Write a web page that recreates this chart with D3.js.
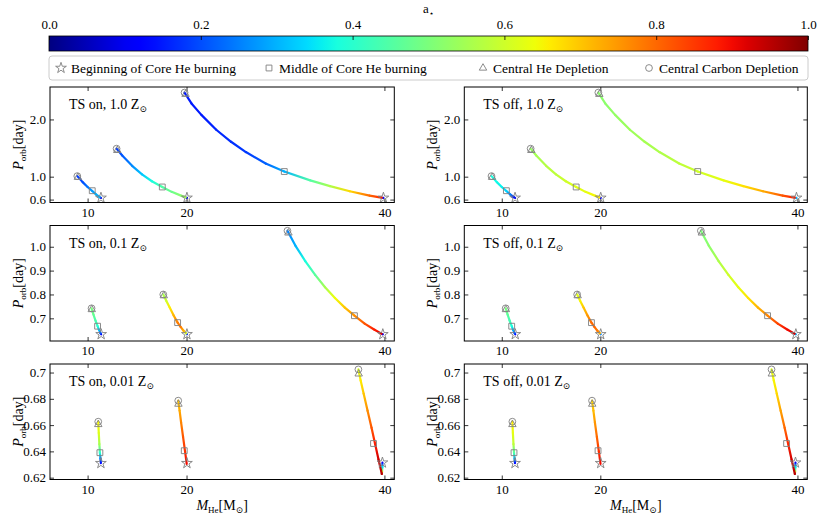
<!DOCTYPE html>
<html>
<head>
<meta charset="utf-8">
<script src="https://cdn.jsdelivr.net/npm/d3@7"></script>
<style>
body { margin: 0; background: #fff; }
svg, svg text { font-family: "Liberation Serif", "Times New Roman", Times, "DejaVu Serif", serif; }
.tick text { font-size: 13px; fill: #000; }
.tick line { stroke: #000; stroke-width: 0.8; }
</style>
</head>
<body>
<script>

// ---- data: tracks run from the star (start of core He burning) to the circle ----
const xTicks = [10, 20, 40];

// Z = 1.0 Zsun
const massZ1 = [
    [11.35, 11.2, 10.85, 10.47, 10.0, 9.5, 8.96],
    [20.04, 19.9, 19.5, 18.5, 17.55, 16.5, 15.5, 14.5, 13.5, 12.93],
    [39.9, 39.7, 38.5, 36.5, 34.5, 32.5, 29.88, 28.0, 26.0, 24.5, 23.0, 21.5, 20.5, 19.8]
];
const porbZ1 = [
    [0.63, 0.645, 0.69, 0.75, 0.82, 0.905, 1.01],
    [0.63, 0.64, 0.665, 0.735, 0.82, 0.92, 1.04, 1.19, 1.37, 1.49],
    [0.63, 0.635, 0.67, 0.745, 0.835, 0.935, 1.09, 1.23, 1.43, 1.61, 1.82, 2.08, 2.28, 2.47]
];
const spinOnZ1 = [
    [0.08, 0.3, 0.3, 0.28, 0.24, 0.2, 0.18],
    [0.08, 0.55, 0.52, 0.48, 0.45, 0.38, 0.32, 0.26, 0.21, 0.18],
    [0.1, 0.87, 0.8, 0.68, 0.56, 0.45, 0.3, 0.22, 0.18, 0.17, 0.16, 0.15, 0.15, 0.15]
];
const spinOffZ1 = [
    [0.08, 0.15, 0.25, 0.33, 0.36, 0.37, 0.38],
    [0.1, 0.66, 0.65, 0.63, 0.62, 0.6, 0.58, 0.57, 0.55, 0.53],
    [0.3, 0.88, 0.82, 0.73, 0.67, 0.63, 0.6, 0.58, 0.56, 0.55, 0.54, 0.53, 0.52, 0.52]
];
const starZ1 = [[11.35, 0.63], [20.04, 0.63], [39.9, 0.63]];
const squareZ1 = [[10.47, 0.755], [17.55, 0.82], [29.88, 1.09]];
const triZ1 = [[9.02, 0.99], [13.0, 1.46], [19.9, 2.44]];
const circZ1 = [[8.96, 1.01], [12.93, 1.49], [19.8, 2.47]];
const yTicksZ1 = [0.6, 1.0, 2.0];
const yLabelsZ1 = ["0.6", "1.0", "2.0"];

// Z = 0.1 Zsun
const massZ01 = [
    [11.37, 11.3, 11.15, 11.01, 10.8, 10.6, 10.4],
    [20.04, 19.95, 19.7, 19.4, 19.1, 18.7, 18.3, 17.95, 17.65],
    [39.84, 39.7, 39.0, 38.0, 36.97, 36.0, 35.0, 34.0, 33.0, 32.0, 31.0, 30.2]
];
const porbZ01 = [
    [0.633, 0.638, 0.652, 0.667, 0.69, 0.715, 0.742],
    [0.633, 0.637, 0.648, 0.664, 0.682, 0.712, 0.745, 0.774, 0.80],
    [0.633, 0.636, 0.652, 0.678, 0.711, 0.745, 0.785, 0.83, 0.882, 0.94, 1.005, 1.067]
];
const spinOnZ01 = [
    [0.1, 0.2, 0.32, 0.4, 0.44, 0.47, 0.5],
    [0.15, 0.6, 0.72, 0.78, 0.78, 0.72, 0.66, 0.6, 0.55],
    [0.1, 0.92, 0.88, 0.82, 0.76, 0.7, 0.64, 0.55, 0.46, 0.38, 0.3, 0.25]
];
const spinOffZ01 = [
    [0.12, 0.2, 0.3, 0.38, 0.43, 0.46, 0.5],
    [0.25, 0.72, 0.78, 0.8, 0.8, 0.75, 0.7, 0.65, 0.62],
    [0.3, 0.93, 0.9, 0.84, 0.77, 0.72, 0.67, 0.63, 0.6, 0.56, 0.52, 0.5]
];
const starZ01 = [[11.37, 0.633], [20.04, 0.633], [39.84, 0.633]];
const squareZ01 = [[11.01, 0.667], [19.1, 0.682], [36.97, 0.711]];
const triZ01 = [[10.42, 0.737], [17.7, 0.795], [30.3, 1.058]];
const circZ01 = [[10.4, 0.742], [17.65, 0.80], [30.2, 1.067]];
const yTicksZ01 = [0.7, 0.8, 0.9, 1.0];
const yLabelsZ01 = ["0.7", "0.8", "0.9", "1.0"];

// Z = 0.01 Zsun
const massZ001 = [
    [11.345, 11.3, 11.244, 11.19, 11.13, 11.076],
    [20.02, 19.85, 19.65, 19.45, 19.3, 19.16],
    [39.8, 39.79, 39.76, 39.74, 39.4, 39.05, 38.7, 38.3, 37.9, 37.6, 37.37]
];
const porbZ001 = [
    [0.631, 0.6345, 0.639, 0.6455, 0.654, 0.6626],
    [0.6305, 0.64, 0.651, 0.662, 0.671, 0.6786],
    [0.6314, 0.628, 0.6245, 0.6228, 0.634, 0.646, 0.658, 0.671, 0.684, 0.694, 0.7024]
];
const spinOnZ001 = [
    [0.12, 0.25, 0.4, 0.55, 0.62, 0.65],
    [0.9, 0.86, 0.82, 0.77, 0.73, 0.7],
    [0.1, 0.35, 0.6, 0.95, 0.93, 0.88, 0.82, 0.76, 0.7, 0.66, 0.62]
];
const spinOffZ001 = [
    [0.12, 0.3, 0.45, 0.58, 0.63, 0.66],
    [0.9, 0.86, 0.8, 0.75, 0.71, 0.68],
    [0.1, 0.35, 0.6, 0.95, 0.93, 0.87, 0.8, 0.74, 0.68, 0.65, 0.62]
];
const starZ001 = [[11.345, 0.631], [20.04, 0.631], [39.8, 0.6314]];
const squareZ001 = [[11.244, 0.639], [19.77, 0.6405], [38.9, 0.646]];
const triZ001 = [[11.08, 0.6605], [19.18, 0.676], [37.4, 0.699]];
const circZ001 = [[11.076, 0.6626], [19.16, 0.6786], [37.37, 0.7024]];
const yTicksZ001 = [0.62, 0.64, 0.66, 0.68, 0.70];
const yLabelsZ001 = ["0.62", "0.64", "0.66", "0.68", "0.7"];

const cbarTicks = [0, 0.2, 0.4, 0.6, 0.8, 1.0];
const cbarLabels = ["0.0", "0.2", "0.4", "0.6", "0.8", "1.0"];
const legendLabels = ["Beginning of Core He burning", "Middle of Core He burning",
                      "Central He Depletion", "Central Carbon Depletion"];

// ---- layout ----
const W = 822, H = 518;
const FONT = "'Liberation Serif', 'Times New Roman', Times, 'DejaVu Serif', serif";
const colX = [[50, 394.3], [464.3, 807.3]];
const rowY = [[87, 202.5], [225.5, 341], [364, 479.5]];
const xDomain = [6.2, 41.0];
const yDomains = [[0.549, 2.567], [0.605, 1.089], [0.6186, 0.7065]];

const svg = d3.select("body").append("svg")
    .attr("width", W).attr("height", H)
    .attr("font-family", FONT);
const defs = svg.append("defs");

// matplotlib "jet"
const jetR = d3.scaleLinear().domain([0, 0.35, 0.66, 0.89, 1]).range([0, 0, 1, 1, 0.5]).clamp(true);
const jetG = d3.scaleLinear().domain([0, 0.125, 0.375, 0.64, 0.91, 1]).range([0, 0, 1, 1, 0, 0]).clamp(true);
const jetB = d3.scaleLinear().domain([0, 0.11, 0.34, 0.65, 1]).range([0.5, 1, 1, 0, 0]).clamp(true);
const jet = a => d3.rgb(255 * jetR(a), 255 * jetG(a), 255 * jetB(a)).formatHex();

// ---- colorbar ----
const cb = {x0: 49, x1: 808, y: 36, h: 15};
const cScale = d3.scaleLinear().domain([0, 1]).range([cb.x0, cb.x1]);
const cgrad = defs.append("linearGradient").attr("id", "cbar");
d3.range(0, 1.0001, 0.02).forEach(t => {
    cgrad.append("stop").attr("offset", t).attr("stop-color", jet(t));
});
svg.append("rect")
    .attr("x", cb.x0).attr("y", cb.y)
    .attr("width", cb.x1 - cb.x0).attr("height", cb.h)
    .attr("fill", "url(#cbar)")
    .attr("stroke", "#000").attr("stroke-width", 0.8);
const cAxis = svg.append("g")
    .attr("transform", `translate(0,${cb.y})`)
    .call(d3.axisTop(cScale).tickValues(cbarTicks)
        .tickFormat((d, i) => cbarLabels[i])
        .tickSizeInner(-4).tickSizeOuter(0).tickPadding(7));
cAxis.select(".domain").remove();
cAxis.attr("font-size", null).attr("font-family", FONT);

const aLab = svg.append("text")
    .attr("x", (cb.x0 + cb.x1) / 2).attr("y", 13)
    .attr("text-anchor", "middle").attr("font-size", 13);
aLab.append("tspan").text("a");
aLab.append("tspan").attr("font-size", 8).attr("dy", 3).text("\u22C6");

// ---- markers ----
const markerStroke = "#7f7f7f";
const symbols = [
    d3.symbol(d3.symbolStar, 36),
    d3.symbol(d3.symbolSquare, 34),
    d3.symbol(d3.symbolTriangle, 24),
    d3.symbol(d3.symbolCircle, 36)
];

// ---- legend ----
const lg = svg.append("g");
lg.append("rect")
    .attr("x", 49).attr("y", 56).attr("width", 759).attr("height", 24)
    .attr("rx", 3).attr("fill", "#fff")
    .attr("stroke", "#cccccc").attr("stroke-width", 1);
const legX = [61, 269, 483, 649];
legendLabels.forEach((lab, i) => {
    lg.append("path")
        .attr("d", symbols[i]())
        .attr("transform", `translate(${legX[i]},68)`)
        .attr("fill", "none").attr("stroke", markerStroke).attr("stroke-width", 0.9);
    lg.append("text")
        .attr("x", legX[i] + 10).attr("y", 72.5)
        .attr("font-size", 13.5)
        .text(lab);
});

// ---- panels ----
const rows = [
    {z: "1.0", M: massZ1, P: porbZ1, spin: [spinOnZ1, spinOffZ1],
     ev: [starZ1, squareZ1, triZ1, circZ1], yt: yTicksZ1, yl: yLabelsZ1},
    {z: "0.1", M: massZ01, P: porbZ01, spin: [spinOnZ01, spinOffZ01],
     ev: [starZ01, squareZ01, triZ01, circZ01], yt: yTicksZ01, yl: yLabelsZ01},
    {z: "0.01", M: massZ001, P: porbZ001, spin: [spinOnZ001, spinOffZ001],
     ev: [starZ001, squareZ001, triZ001, circZ001], yt: yTicksZ001, yl: yLabelsZ001}
];
const tsNames = ["TS on", "TS off"];

let gid = 0;

rows.forEach((row, r) => {
    [0, 1].forEach(c => {
        const [x0, x1] = colX[c];
        const [y0, y1] = rowY[r];
        const x = d3.scaleLinear().domain(xDomain).range([x0, x1]);
        const y = d3.scaleLinear().domain(yDomains[r]).range([y1, y0]);
        const g = svg.append("g");

        // axes, ticks pointing inward on all sides
        const axB = g.append("g").attr("transform", `translate(0,${y1})`)
            .call(d3.axisBottom(x).tickValues(xTicks).tickFormat(d3.format("d"))
                .tickSizeInner(-4).tickSizeOuter(0).tickPadding(5));
        const axT = g.append("g").attr("transform", `translate(0,${y0})`)
            .call(d3.axisTop(x).tickValues(xTicks).tickFormat("")
                .tickSizeInner(-4).tickSizeOuter(0));
        const axL = g.append("g").attr("transform", `translate(${x0},0)`)
            .call(d3.axisLeft(y).tickValues(row.yt).tickFormat((d, i) => row.yl[i])
                .tickSizeInner(-4).tickSizeOuter(0).tickPadding(4));
        const axR = g.append("g").attr("transform", `translate(${x1},0)`)
            .call(d3.axisRight(y).tickValues(row.yt).tickFormat("")
                .tickSizeInner(-4).tickSizeOuter(0));
        [axB, axT, axL, axR].forEach(a => {
            a.select(".domain").remove();
            a.attr("font-size", null).attr("font-family", FONT);
        });

        // coloured tracks: each segment gets its own gradient
        const spin = row.spin[c];
        const lines = g.append("g");
        row.M.forEach((Ms, k) => {
            const Ps = row.P[k], As = spin[k];
            for (let i = 0; i < Ms.length - 1; i++) {
                const id = "seg" + (gid++);
                const xa = x(Ms[i]), ya = y(Ps[i]), xb = x(Ms[i + 1]), yb = y(Ps[i + 1]);
                const gr = defs.append("linearGradient").attr("id", id)
                    .attr("gradientUnits", "userSpaceOnUse")
                    .attr("x1", xa).attr("y1", ya).attr("x2", xb).attr("y2", yb);
                gr.append("stop").attr("offset", 0).attr("stop-color", jet(As[i]));
                gr.append("stop").attr("offset", 1).attr("stop-color", jet(As[i + 1]));
                lines.append("line")
                    .attr("x1", xa).attr("y1", ya).attr("x2", xb).attr("y2", yb)
                    .attr("stroke", `url(#${id})`)
                    .attr("stroke-width", 2.2)
                    .attr("stroke-linecap", "round");
            }
        });

        // event markers
        row.ev.forEach((pts, s) => {
            g.selectAll(null).data(pts).enter().append("path")
                .attr("d", symbols[s]())
                .attr("transform", d => `translate(${x(d[0])},${y(d[1])})`)
                .attr("fill", "none")
                .attr("stroke", markerStroke)
                .attr("stroke-width", 0.9);
        });

        // frame
        g.append("rect")
            .attr("x", x0).attr("y", y0)
            .attr("width", x1 - x0).attr("height", y1 - y0)
            .attr("fill", "none").attr("stroke", "#000").attr("stroke-width", 1);

        // panel title
        const t = g.append("text")
            .attr("x", x0 + 19).attr("y", y0 + 22)
            .attr("font-size", 14);
        t.append("tspan").text(`${tsNames[c]}, ${row.z} Z`);
        t.append("tspan").attr("font-size", 9).attr("dy", 3).text("\u2299");

        // y label
        const yl = g.append("text")
            .attr("transform", `translate(${x0 - 27},${(y0 + y1) / 2}) rotate(-90)`)
            .attr("text-anchor", "middle")
            .attr("font-size", 14);
        yl.append("tspan").attr("font-style", "italic").text("P");
        yl.append("tspan").attr("font-size", 9).attr("dy", 3).text("orb");
        yl.append("tspan").attr("dy", -3).text("[day]");

        // x label on bottom row
        if (r === 2) {
            const xl = g.append("text")
                .attr("x", (x0 + x1) / 2).attr("y", 510)
                .attr("text-anchor", "middle")
                .attr("font-size", 14);
            xl.append("tspan").attr("font-style", "italic").text("M");
            xl.append("tspan").attr("font-size", 9).attr("dy", 3).text("He");
            xl.append("tspan").attr("dy", -3).text("[M");
            xl.append("tspan").attr("font-size", 9).attr("dy", 3).text("\u2299");
            xl.append("tspan").attr("dy", -3).text("]");
        }
    });
});

</script>
</body>
</html>
